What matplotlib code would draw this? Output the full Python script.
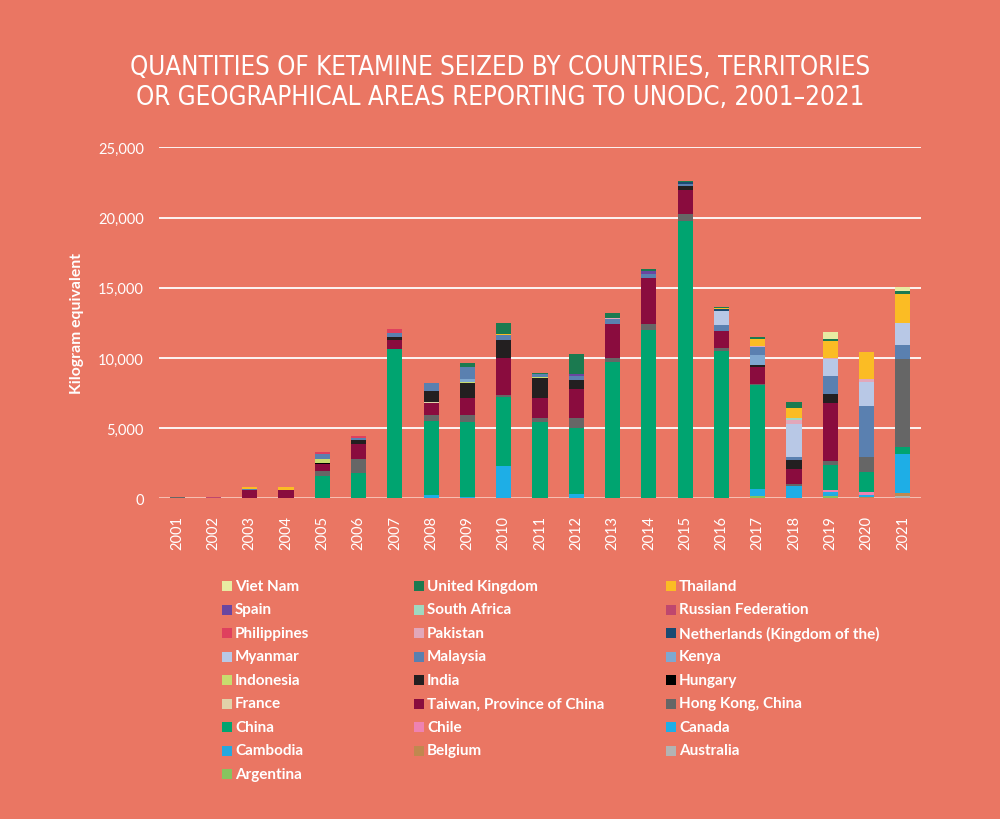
import matplotlib
matplotlib.use("Agg")
import matplotlib.pyplot as plt
from matplotlib.patches import Rectangle
import numpy as np

BG = "#ea7663"
TEXT_FONT = ["Lato", "DejaVu Sans"]

years = list(range(2001, 2022))

# kg per year, 2001 ... 2021
argentina    = [0, 0, 0, 0, 0, 0, 0, 0, 0, 0, 0, 0, 0, 0, 0, 0, 190, 0, 140, 0, 0]
australia    = [0, 0, 0, 0, 0, 0, 0, 0, 0, 0, 0, 0, 0, 0, 0, 0, 0, 0, 0, 0, 150]
belgium      = [0, 0, 0, 0, 0, 0, 0, 0, 0, 0, 0, 0, 0, 0, 0, 0, 0, 0, 50, 120, 250]
cambodia     = [0, 0, 0, 0, 0, 0, 0, 0, 0, 0, 0, 0, 0, 0, 0, 0, 0, 0, 100, 0, 0]
canada       = [0, 0, 0, 0, 0, 0, 0, 260, 95, 2320, 0, 285, 30, 0, 0, 0, 500, 850, 160, 120, 2750]
chile        = [0, 0, 0, 0, 0, 0, 0, 0, 0, 0, 0, 0, 0, 0, 0, 0, 0, 0, 120, 240, 0]
china        = [0, 0, 0, 0, 1570, 1810, 10620, 5260, 5330, 4880, 5400, 4720, 9700, 11970, 19740,
                10480, 7350, 0, 1780, 1420, 475]
hong_kong    = [80, 0, 0, 0, 405, 1000, 50, 430, 475, 190, 355, 690, 285, 475, 500, 260, 120, 140,
                285, 1020, 6330]
taiwan       = [0, 0, 620, 620, 475, 1070, 595, 810, 1240, 2630, 1375, 2090, 2420, 3270, 1750, 1185,
                1185, 1090, 4170, 0, 0]
france       = [0, 0, 0, 0, 0, 0, 0, 70, 0, 0, 0, 0, 0, 0, 0, 0, 0, 0, 0, 0, 0]
hungary      = [0, 0, 0, 0, 40, 0, 0, 0, 0, 0, 0, 0, 0, 0, 0, 0, 0, 0, 0, 0, 0]
india        = [0, 0, 0, 0, 40, 260, 260, 785, 1070, 1230, 1470, 620, 0, 0, 285, 0, 140, 640, 640, 0, 0]
indonesia    = [0, 0, 0, 0, 260, 0, 0, 0, 95, 60, 50, 0, 0, 0, 0, 0, 0, 0, 0, 0, 0]
kenya        = [0, 0, 0, 0, 0, 0, 0, 0, 220, 0, 0, 0, 0, 0, 0, 0, 735, 0, 0, 0, 0]
malaysia     = [0, 0, 50, 0, 355, 190, 285, 570, 850, 330, 210, 330, 355, 260, 140, 400, 545, 190,
                1280, 3630, 950]
myanmar      = [0, 0, 0, 0, 0, 0, 0, 0, 0, 0, 0, 0, 0, 0, 0, 1000, 0, 2370, 1185, 1750, 1590]
netherlands  = [0, 0, 0, 0, 0, 0, 0, 0, 0, 0, 0, 0, 0, 0, 140, 190, 0, 0, 0, 0, 0]
pakistan     = [0, 0, 0, 0, 0, 0, 0, 50, 0, 0, 0, 0, 50, 0, 0, 0, 50, 310, 95, 190, 0]
philippines  = [0, 0, 0, 0, 120, 95, 285, 0, 0, 0, 0, 0, 0, 0, 0, 0, 0, 0, 0, 0, 0]
russia       = [0, 60, 0, 0, 0, 0, 0, 0, 0, 0, 0, 0, 0, 0, 0, 0, 0, 0, 0, 0, 0]
south_africa = [0, 0, 0, 0, 0, 0, 0, 0, 0, 0, 0, 0, 0, 0, 0, 0, 0, 120, 0, 0, 0]
spain        = [0, 0, 0, 0, 0, 0, 0, 0, 0, 0, 0, 90, 0, 210, 0, 0, 0, 0, 0, 0, 0]
thailand     = [0, 0, 140, 190, 0, 0, 0, 0, 0, 80, 0, 0, 0, 0, 0, 60, 545, 690, 1185, 1945, 2040]
uk           = [0, 0, 0, 0, 0, 0, 0, 0, 260, 800, 90, 1420, 355, 120, 60, 50, 120, 475, 140, 0, 240]
viet_nam     = [0, 0, 0, 0, 0, 0, 0, 0, 0, 0, 0, 0, 0, 0, 0, 0, 0, 0, 520, 0, 285]

# stacking order, bottom to top
series = [
    ("Argentina", argentina, "#86c35f"),
    ("Australia", australia, "#b3b3b3"),
    ("Belgium", belgium, "#c0884f"),
    ("Cambodia", cambodia, "#25a8de"),
    ("Canada", canada, "#1eaee6"),
    ("Chile", chile, "#ee82b2"),
    ("China", china, "#00a470"),
    ("Hong Kong, China", hong_kong, "#666666"),
    ("Taiwan, Province of China", taiwan, "#8a0c3e"),
    ("France", france, "#e1d2a9"),
    ("Hungary", hungary, "#000000"),
    ("India", india, "#231f20"),
    ("Indonesia", indonesia, "#c8dc6e"),
    ("Kenya", kenya, "#7fa8d0"),
    ("Malaysia", malaysia, "#5a80b0"),
    ("Myanmar", myanmar, "#b8c8e6"),
    ("Netherlands (Kingdom of the)", netherlands, "#1a4a72"),
    ("Pakistan", pakistan, "#e2a7ba"),
    ("Philippines", philippines, "#df405e"),
    ("Russian Federation", russia, "#bf476e"),
    ("South Africa", south_africa, "#9fd9c0"),
    ("Spain", spain, "#6a46a0"),
    ("Thailand", thailand, "#fbbc24"),
    ("United Kingdom", uk, "#1b7a50"),
    ("Viet Nam", viet_nam, "#e8eba2"),
]

fig = plt.figure(figsize=(10, 8.2), dpi=100, facecolor=BG)
ax = fig.add_axes([0.159, 0.3911, 0.762, 0.428])
ax.set_facecolor(BG)

x = np.arange(len(years))
bottom = np.zeros(len(years))
for name, vals, col in series:
    vals = np.array(vals, dtype=float)
    ax.bar(x, vals, 0.42, bottom=bottom, color=col, linewidth=0, zorder=3)
    bottom += vals

ax.set_xlim(-0.5, len(years) - 0.5)
ax.set_ylim(0, 25000)
ax.set_yticks(range(0, 25001, 5000))
ax.set_yticklabels([f"{v:,}" for v in range(0, 25001, 5000)])
ax.set_xticks(x)
ax.set_xticklabels([str(y) for y in years], rotation=90)
ax.grid(axis="y", color="white", linewidth=1.3, zorder=0)
ax.axhline(0, color="#f6b8aa", linewidth=2, zorder=2)
for s in ax.spines.values():
    s.set_visible(False)
ax.tick_params(axis="both", length=0, colors="white", labelsize=10.5)
ax.tick_params(axis="y", pad=11)
ax.tick_params(axis="x", pad=12)
for lab in ax.get_xticklabels() + ax.get_yticklabels():
    lab.set_family(TEXT_FONT)
ax.set_ylabel("Kilogram equivalent", color="white", fontsize=11.3, fontweight="bold",
              family=TEXT_FONT, labelpad=10)

fig.text(0.5, 0.899, "QUANTITIES OF KETAMINE SEIZED BY COUNTRIES, TERRITORIES\n"
         "OR GEOGRAPHICAL AREAS REPORTING TO UNODC, 2001\u20132021",
         ha="center", va="center", color="white", fontsize=18.6, family="DejaVu Sans",
         fontstretch="condensed", linespacing=1.17)

# legend: reverse stacking order, filled row by row in three columns
W, H = 1000, 820
col_x = [222, 414, 666]
row_y0 = 587
row_h = 23.5
for i, (name, vals, col) in enumerate(series[::-1]):
    r, c = divmod(i, 3)
    yc = row_y0 + r * row_h
    fig.patches.append(Rectangle((col_x[c] / W, 1 - (yc + 5) / H), 10 / W, 10 / H,
                                 transform=fig.transFigure, facecolor=col, edgecolor="none"))
    fig.text((col_x[c] + 13) / W, 1 - yc / H, name, color="white", fontsize=11,
             fontweight="bold", family=TEXT_FONT, ha="left", va="center")

fig.savefig("out.png", dpi=100, facecolor=BG)
